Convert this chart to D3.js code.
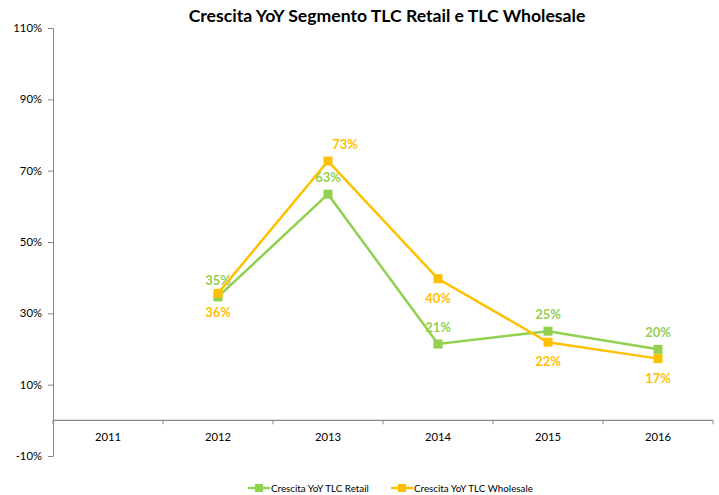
<!DOCTYPE html>
<html><head><meta charset="utf-8">
<script src="https://cdn.jsdelivr.net/npm/d3@7"></script>
<style>body{margin:0;background:#fff}svg{display:block}text{font-family:Lato,"Open Sans",sans-serif}</style>
</head><body><svg id="c" width="719" height="495"></svg>
<script>
const categories = ["2011","2012","2013","2014","2015","2016"];
const retail = [null, 34.6, 63.4, 21.4, 25.0, 19.9];
const wholesale = [null, 35.6, 72.7, 39.7, 21.9, 17.3];
const retailLabelPos = [null, "above", "above", "above", "above", "above"];
const wholesaleLabelPos = [null, "below", "aboveRight", "below", "below", "below"];
const yTicks = [-10, 10, 30, 50, 70, 90, 110];
const seriesNames = ["Crescita YoY TLC Retail", "Crescita YoY TLC Wholesale"];
const colors = ["#92D050", "#FFC000"];

const svg = d3.select("#c");
const m = {l:53, r:6, t:28, b:39};
const W = 719, H = 495;
const x = d3.scaleBand().domain(categories).range([m.l, W - m.r]);
const y = d3.scaleLinear().domain([-10, 110]).range([H - m.b, m.t]);
const axisCol = "#868686";

svg.append("text").attr("x", 387).attr("y", 22).attr("text-anchor","middle")
  .attr("font-size", 17.6).attr("font-weight","bold").attr("fill","#000")
  .text("Crescita YoY Segmento TLC Retail e TLC Wholesale");

// y axis
const ya = svg.append("g").attr("transform", `translate(${m.l},0)`)
  .call(d3.axisLeft(y).tickValues(yTicks).tickFormat(d => d + "%").tickSize(5).tickPadding(6));
ya.select(".domain").attr("stroke", axisCol);
ya.selectAll(".tick line").attr("stroke", axisCol);
ya.selectAll("text").attr("font-size", 11.3).attr("fill","#000");

// x axis at 0
const y0 = y(0);
svg.append("line").attr("x1", m.l).attr("x2", W - m.r).attr("y1", y0).attr("y2", y0)
  .attr("stroke", axisCol).attr("stroke-width", 1.3);
const bounds = categories.map(c => x(c)).concat([x(categories[categories.length-1]) + x.bandwidth()]);
svg.selectAll(".xt").data(bounds).join("line").attr("x1", d => d).attr("x2", d => d)
  .attr("y1", y0).attr("y2", y0 + 4).attr("stroke", axisCol);
svg.selectAll(".xl").data(categories).join("text")
  .attr("x", d => x(d) + x.bandwidth()/2).attr("y", y0 + 21).attr("text-anchor","middle")
  .attr("font-size", 11.3).attr("fill","#000").text(d => d);

function drawSeries(vals, pos, col) {
  const pts = categories.map((c, i) => ({c, v: vals[i], p: pos[i]})).filter(d => d.v != null);
  const line = d3.line().x(d => x(d.c) + x.bandwidth()/2).y(d => y(d.v));
  svg.append("path").datum(pts).attr("d", line).attr("fill","none").attr("stroke", col).attr("stroke-width", 2.5);
  svg.selectAll(null).data(pts).join("rect")
    .attr("x", d => x(d.c) + x.bandwidth()/2 - 4.5).attr("y", d => y(d.v) - 4.5)
    .attr("width", 9).attr("height", 9).attr("fill", col);
  svg.selectAll(null).data(pts).join("text")
    .attr("x", d => x(d.c) + x.bandwidth()/2 + (d.p === "aboveRight" ? 17 : 0))
    .attr("y", d => y(d.v) + (d.p === "below" ? 24 : -12))
    .attr("text-anchor","middle").attr("font-size", 13).attr("font-weight","bold")
    .attr("fill", col).text(d => Math.round(d.v) + "%");
}
drawSeries(retail, retailLabelPos, colors[0]);
drawSeries(wholesale, wholesaleLabelPos, colors[1]);

// legend
const lx = [248, 391];
seriesNames.forEach((n, i) => {
  const g = svg.append("g").attr("transform", `translate(${lx[i]},488)`);
  g.append("line").attr("x1", 0).attr("x2", 22).attr("stroke", colors[i]).attr("stroke-width", 2.5);
  g.append("rect").attr("x", 7).attr("y", -4).attr("width", 8).attr("height", 8).attr("fill", colors[i]);
  g.append("text").attr("x", 23).attr("y", 3.5).attr("font-size", 9.8).attr("fill","#000").text(n);
});
</script></body></html>
